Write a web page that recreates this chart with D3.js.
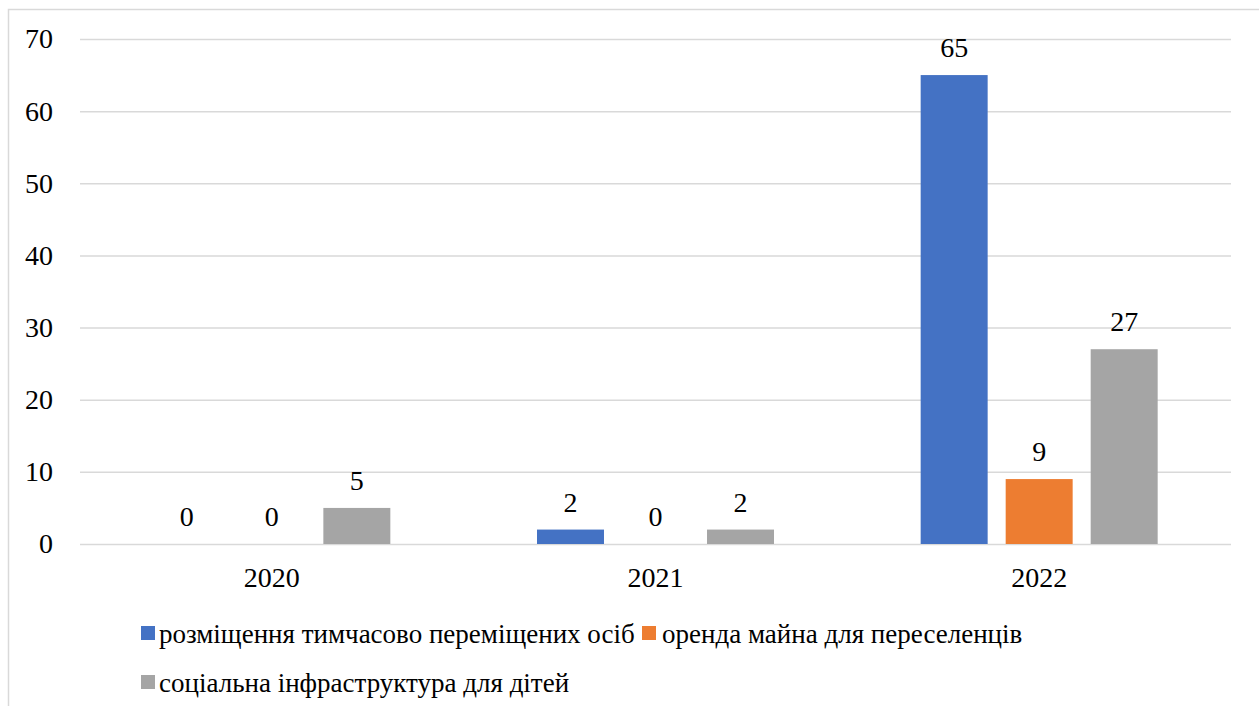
<!DOCTYPE html>
<html>
<head>
<meta charset="UTF-8">
<title>Bar chart</title>
<script src="https://d3js.org/d3.v7.min.js"></script>
<style>
  body { margin: 0; background: #fff; }
</style>
</head>
<body>
<svg width="1259" height="706" style="font-family:'Liberation Serif'"></svg>
<script>
var years = ["2020", "2021", "2022"];
var seriesNames = ["розміщення тимчасово переміщених осіб", "оренда майна для переселенців", "соціальна інфраструктура для дітей"];
var seriesColors = ["#4472c4", "#ed7d31", "#a5a5a5"];
var placement = [0, 2, 65];
var rent = [0, 0, 9];
var childInfra = [5, 2, 27];
var yTicks = [0, 10, 20, 30, 40, 50, 60, 70];

var series = [placement, rent, childInfra];

var svg = d3.select("svg");

// outer frame
svg.append("rect")
  .attr("x", 8.5).attr("y", 9.5)
  .attr("width", 1300).attr("height", 800)
  .attr("fill", "none").attr("stroke", "#d9d9d9").attr("stroke-width", 1.5);

var plotLeft = 80, plotRight = 1231, plotTop = 39, plotBottom = 544;

var x = d3.scaleBand().domain(years).range([plotLeft, plotRight]);
var inner = d3.scaleBand().domain([0, 1, 2]).range([0, 237]).paddingInner(0.212);
var y = d3.scaleLinear().domain([0, 70]).range([plotBottom, plotTop]);

// gridlines + y labels
var yAxis = svg.append("g")
  .attr("transform", "translate(" + plotLeft + ",0)")
  .call(d3.axisLeft(y).tickValues(yTicks).tickSize(-(plotRight - plotLeft)).tickPadding(27));
yAxis.attr("font-family", null).attr("font-size", null);
yAxis.select(".domain").remove();
yAxis.selectAll("line").attr("stroke", "#d9d9d9").attr("stroke-width", 1.5);
yAxis.selectAll("text").attr("font-size", 28).attr("fill", "#000");

// x labels
var xAxis = svg.append("g")
  .attr("transform", "translate(0," + plotBottom + ")")
  .call(d3.axisBottom(x).tickSize(0).tickPadding(23));
xAxis.attr("font-family", null).attr("font-size", null);
xAxis.select(".domain").remove();
xAxis.selectAll("text").attr("font-size", 28).attr("fill", "#000");

var groupOffset = (x.bandwidth() - 237) / 2;

series.forEach(function(vals, si) {
  var g = svg.append("g");
  g.selectAll("rect")
    .data(vals)
    .enter().append("rect")
    .attr("x", function(d, i) { return x(years[i]) + groupOffset + inner(si); })
    .attr("y", function(d) { return y(d); })
    .attr("width", inner.bandwidth())
    .attr("height", function(d) { return plotBottom - y(d); })
    .attr("fill", seriesColors[si]);
  g.selectAll("text")
    .data(vals)
    .enter().append("text")
    .attr("x", function(d, i) { return x(years[i]) + groupOffset + inner(si) + inner.bandwidth() / 2; })
    .attr("y", function(d) { return y(d) - 18; })
    .attr("text-anchor", "middle")
    .attr("font-size", 28)
    .text(function(d) { return d; });
});

// legend (x of swatch, x of text, baseline)
var legendPos = [[141, 159, 643], [642, 662, 643], [141, 159, 692]];
var legend = svg.append("g");
seriesNames.forEach(function(name, i) {
  legend.append("rect")
    .attr("x", legendPos[i][0]).attr("y", legendPos[i][2] - 17)
    .attr("width", 14).attr("height", 14)
    .attr("fill", seriesColors[i]);
  legend.append("text")
    .attr("x", legendPos[i][1]).attr("y", legendPos[i][2])
    .attr("font-size", 27)
    .text(name);
});
</script>
</body>
</html>
